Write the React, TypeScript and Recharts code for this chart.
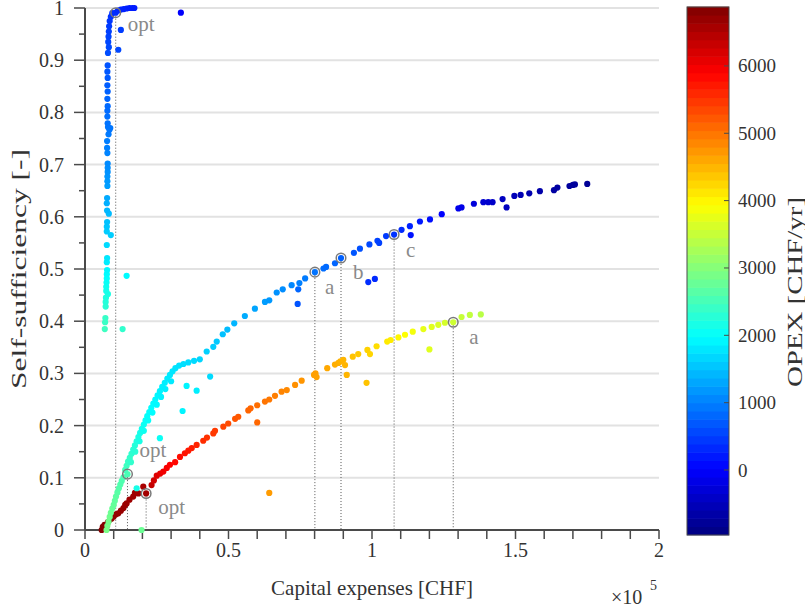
import React from 'react'
import { ScatterChart, Scatter, XAxis, YAxis, ReferenceLine } from 'recharts'

// [capital expenses CHF, self-sufficiency, OPEX CHF/yr]
const verticalFront: [number, number, number][] = [
  [6900, 0.385, 2450], [7000, 0.398, 2420], [7100, 0.406, 2400], [13100, 0.385, 2350],
  [7200, 0.428, 2300], [7200, 0.437, 2260], [7300, 0.445, 2220], [8000, 0.452, 2180],
  [7400, 0.458, 2140], [7400, 0.466, 2100], [7500, 0.474, 2050], [7600, 0.482, 2000],
  [14500, 0.487, 1950], [7600, 0.49, 1960], [7700, 0.498, 1920], [7600, 0.513, 1840],
  [7700, 0.521, 1800], [7600, 0.546, 1700], [9000, 0.565, 1600], [7600, 0.572, 1580],
  [7600, 0.581, 1540], [7700, 0.59, 1500], [8300, 0.606, 1450], [7700, 0.612, 1420],
  [7600, 0.626, 1360], [7700, 0.636, 1320], [7800, 0.659, 1240], [7800, 0.668, 1200],
  [7800, 0.677, 1170], [7900, 0.686, 1140], [7900, 0.694, 1110], [7900, 0.702, 1080],
  [7800, 0.722, 1030], [7700, 0.732, 1000], [7700, 0.745, 980], [8200, 0.758, 950],
  [8500, 0.767, 930], [8000, 0.772, 920], [8800, 0.77, 920], [7900, 0.779, 900],
  [7800, 0.792, 870], [7800, 0.803, 840], [7900, 0.812, 820], [7800, 0.826, 790],
  [7900, 0.84, 760], [7800, 0.852, 730], [7900, 0.866, 700], [7800, 0.878, 680],
  [7900, 0.89, 650], [8000, 0.914, 600], [8300, 0.925, 580], [8100, 0.935, 560],
  [11600, 0.92, 560], [8200, 0.945, 530], [8300, 0.955, 500], [12500, 0.958, 480],
  [8400, 0.965, 470], [8600, 0.975, 440], [9000, 0.983, 410], [9500, 0.99, 380],
  [10700, 0.991, 360], [11500, 0.995, 330], [12500, 0.997, 300], [13500, 0.998, 280],
  [14500, 0.999, 260], [15500, 1.0, 240], [16500, 1.0, 230], [17200, 1.0, 220],
  [33400, 0.991, 0],
]

const upperFront: [number, number, number][] = [
  [7500, 0.0, 2900], [7800, 0.008, 2880], [8200, 0.016, 2860], [8600, 0.025, 2840],
  [9000, 0.033, 2810], [9500, 0.041, 2780], [10000, 0.048, 2750], [10400, 0.056, 2720],
  [10800, 0.064, 2690], [11300, 0.072, 2660], [11800, 0.08, 2630], [12300, 0.087, 2600],
  [12800, 0.094, 2580], [13400, 0.101, 2560], [14800, 0.107, 2540], [14000, 0.115, 2500],
  [14500, 0.123, 2460], [15000, 0.131, 2420], [15600, 0.138, 2380], [16000, 0.13, 2360],
  [16200, 0.146, 2340], [16800, 0.154, 2300], [17500, 0.15, 2290], [17400, 0.162, 2260],
  [18000, 0.17, 2220], [18600, 0.178, 2180], [19000, 0.17, 2170], [19200, 0.186, 2140],
  [19800, 0.194, 2100], [20500, 0.202, 2070], [20500, 0.19, 2080], [21100, 0.21, 2040],
  [21700, 0.218, 2010], [22000, 0.21, 2020], [22400, 0.226, 1990], [23100, 0.234, 1970],
  [23500, 0.225, 1970], [23800, 0.242, 1950], [24500, 0.25, 1930], [25000, 0.24, 1930],
  [25300, 0.258, 1910], [26100, 0.266, 1890], [26500, 0.255, 1890], [26900, 0.274, 1870],
  [27800, 0.282, 1850], [28000, 0.27, 1850], [28700, 0.29, 1830], [29600, 0.297, 1810],
  [30000, 0.285, 1810], [30500, 0.304, 1790], [31500, 0.31, 1770], [32800, 0.315, 1750],
  [34300, 0.318, 1730], [36000, 0.321, 1710], [38000, 0.324, 1690], [40000, 0.327, 1660],
  [42400, 0.342, 1620], [44700, 0.351, 1580], [45900, 0.361, 1550], [48000, 0.375, 1500],
  [49600, 0.384, 1460], [52000, 0.396, 1410], [55700, 0.41, 1340], [59200, 0.424, 1280],
  [62700, 0.437, 1220], [64200, 0.44, 1190], [66800, 0.455, 1140], [68900, 0.461, 1100],
  [72000, 0.469, 1050], [74700, 0.473, 1000], [76700, 0.482, 960], [80100, 0.494, 900],
  [83100, 0.501, 850], [84000, 0.504, 830], [87100, 0.511, 780], [89200, 0.521, 750],
  [93700, 0.531, 670], [95800, 0.539, 630], [99100, 0.547, 570], [101900, 0.554, 520],
  [102500, 0.55, 510], [104900, 0.563, 460], [107700, 0.566, 400], [110300, 0.575, 340],
  [113200, 0.582, 280], [116700, 0.591, 200], [120200, 0.595, 120], [124300, 0.605, 20],
  [130100, 0.616, -130], [131200, 0.618, -160], [135500, 0.625, -260], [138800, 0.628, -330],
  [140500, 0.628, -370], [142000, 0.628, -400], [145500, 0.634, -460], [146900, 0.618, -480],
  [149600, 0.64, -530], [151800, 0.642, -560], [154800, 0.645, -600], [158500, 0.649, -640],
  [163400, 0.651, -690], [164600, 0.656, -700], [168800, 0.659, -740], [170000, 0.661, -750],
  [170700, 0.662, -755], [175000, 0.663, -790],
  // scattered solutions off the front
  [18000, 0.08, 2150], [19700, 0.0, 2800], [26100, 0.176, 2050], [34000, 0.228, 1900],
  [35400, 0.276, 1900], [38900, 0.267, 1850], [43600, 0.294, 1700], [74300, 0.461, 800],
  [74100, 0.433, 650], [98700, 0.475, 350], [101000, 0.481, 330], [113500, 0.565, 150],
]

const lowerFront: [number, number, number][] = [
  [5800, 0.0, 6850], [6200, 0.006, 6840], [6800, 0.01, 6830], [7500, 0.006, 6820],
  [8000, 0.015, 6800], [8700, 0.02, 6780], [9300, 0.022, 6760], [10000, 0.026, 6740],
  [10800, 0.03, 6720], [11600, 0.032, 6700], [12500, 0.037, 6690], [13400, 0.042, 6680],
  [14000, 0.048, 6670], [14500, 0.051, 6660], [15500, 0.058, 6650], [16800, 0.064, 6640],
  [17400, 0.071, 6630], [18600, 0.07, 6620], [20300, 0.083, 6550], [21300, 0.07, 6600],
  [23200, 0.086, 6350], [24000, 0.095, 6250], [25000, 0.104, 6150], [26200, 0.108, 6080],
  [27300, 0.112, 6000], [28500, 0.119, 5950], [29600, 0.125, 5900], [31400, 0.13, 5850],
  [33100, 0.14, 5800], [34800, 0.147, 5760], [36000, 0.152, 5720], [37200, 0.157, 5680],
  [38900, 0.163, 5620], [41200, 0.171, 5560], [42500, 0.177, 5520], [44700, 0.185, 5470],
  [45300, 0.19, 5450], [48200, 0.198, 5370], [49900, 0.204, 5320], [52300, 0.213, 5250],
  [53400, 0.217, 5220], [56900, 0.229, 5130], [57700, 0.233, 5110], [60000, 0.239, 5050],
  [62700, 0.246, 5000], [64200, 0.25, 4970], [66200, 0.257, 4930], [68500, 0.265, 4880],
  [70300, 0.268, 4840], [73200, 0.278, 4790], [75500, 0.286, 4750], [79800, 0.297, 4680],
  [80300, 0.3, 4670], [80700, 0.293, 4660], [84400, 0.31, 4600], [87100, 0.317, 4560],
  [88300, 0.32, 4540], [89000, 0.323, 4520], [90000, 0.326, 4500], [93300, 0.332, 4400],
  [95200, 0.337, 4350], [98400, 0.345, 4280], [99300, 0.337, 4260], [101600, 0.352, 4200],
  [105300, 0.361, 4100], [106500, 0.364, 4070], [109200, 0.369, 4000], [111500, 0.374, 3930],
  [114200, 0.38, 3850], [117900, 0.385, 3760], [120800, 0.389, 3700], [123100, 0.393, 3650],
  [125400, 0.397, 3610], [128300, 0.398, 3560], [131200, 0.408, 3500], [134100, 0.412, 3460],
  [137900, 0.413, 3400],
  [60000, 0.206, 5100], [64200, 0.071, 4700], [91200, 0.297, 4500], [90600, 0.316, 4500],
  [98100, 0.282, 4400], [120000, 0.346, 3700],
]

// highlighted solutions
const markX = [10700, 14800, 21300, 80100, 89200, 107700, 128300]
const markY = [0.991, 0.107, 0.07, 0.494, 0.521, 0.566, 0.398]
const markLabels = ['opt', 'opt', 'opt', 'a', 'b', 'c', 'a']
const labelOffsets = [[12, 18], [12, -17], [12, 21], [10, 22], [12, 21], [12, 22], [16, 22]]

const X_TICKS = [0, 10000, 20000, 30000, 40000, 50000, 60000, 70000, 80000, 90000, 100000,
  110000, 120000, 130000, 140000, 150000, 160000, 170000, 180000, 190000, 200000]
const Y_TICKS = [0, 0.05, 0.1, 0.15, 0.2, 0.25, 0.3, 0.35, 0.4, 0.45, 0.5, 0.55, 0.6, 0.65,
  0.7, 0.75, 0.8, 0.85, 0.9, 0.95, 1]
const GRID_Y = [0.1, 0.2, 0.3, 0.4, 0.5, 0.6, 0.7, 0.8, 0.9, 1]
const CB_TICKS = [0, 1000, 2000, 3000, 4000, 5000, 6000]

const CMIN = -965
const CMAX = 6875
const SERIF = '"Liberation Serif", "Times New Roman", serif'
const AXIS = '#4a4a4a'
const TXT = '#333333'

function jet(v: number) {
  const t = Math.max(0, Math.min(1, (v - CMIN) / (CMAX - CMIN)))
  const k = (a: number) => Math.round(255 * Math.max(0, Math.min(1, a)))
  const r = k(Math.min(4 * t - 1.5, -4 * t + 4.5))
  const g = k(Math.min(4 * t - 0.5, -4 * t + 3.5))
  const b = k(Math.min(4 * t + 0.5, -4 * t + 2.5))
  return `rgb(${r},${g},${b})`
}

const toPoints = (rows: [number, number, number][]) =>
  rows.map(([x, y, opex]) => ({ x, y, opex }))

const marks = markX.map((x, i) => ({ x, y: markY[i], label: markLabels[i], i }))

const Dot = (p: any) => (
  <circle cx={p.cx} cy={p.cy} r={3.1} fill={jet(p.payload.opex)} />
)

const Mark = (p: any) => {
  const [dx, dy] = labelOffsets[p.payload.i]
  return (
    <g>
      <circle cx={p.cx} cy={p.cy} r={4.8} fill="none" stroke="#7a7a7a" strokeWidth={1.5} />
      <text x={p.cx + dx} y={p.cy + dy} fill="#8a8a8a" fontSize={21} fontFamily={SERIF}>
        {p.payload.label}
      </text>
    </g>
  )
}

const YTick = (p: any) => {
  const v = p.payload.value
  const major = Math.round(v * 100) % 10 === 0
  const len = major ? 11 : 6
  const label = v === 0 ? '0' : v === 1 ? '1' : v.toFixed(1)
  return (
    <g>
      <line x1={p.x - len} x2={p.x} y1={p.y} y2={p.y} stroke={AXIS} strokeWidth={1.5} />
      {major && (
        <text x={p.x - 21} y={p.y} textAnchor="end" dominantBaseline="central"
          fill={TXT} fontSize={20} fontFamily={SERIF}>{label}</text>
      )}
    </g>
  )
}

const fmtX = (v: number) => (v % 50000 === 0 ? String(v / 100000) : '')

function ColorBar() {
  const x = 687, w = 42, top = 7, bottom = 535
  const n = 64
  const h = (bottom - top) / n
  const yOf = (v: number) => bottom - ((v - CMIN) / (CMAX - CMIN)) * (bottom - top)
  return (
    <g>
      {Array.from({ length: n }, (_, i) => (
        <rect key={i} x={x} y={bottom - (i + 1) * h - 0.3} width={w} height={h + 0.6}
          fill={jet(CMIN + ((i + 0.5) / n) * (CMAX - CMIN))} />
      ))}
      <rect x={x} y={top} width={w} height={bottom - top} fill="none" stroke={AXIS} strokeWidth={1} />
      {CB_TICKS.map((v) => (
        <g key={v}>
          <line x1={x + w - 5} x2={x + w} y1={yOf(v)} y2={yOf(v)} stroke={AXIS} strokeWidth={1} />
          <text x={738} y={yOf(v)} dominantBaseline="central" fill={TXT} fontSize={19}
            fontFamily={SERIF}>{v}</text>
        </g>
      ))}
      <text transform="translate(795,292) rotate(-90)" textAnchor="middle" dominantBaseline="central"
        fill={TXT} fontSize={20} fontFamily={SERIF} textLength={190} lengthAdjust="spacingAndGlyphs">
        OPEX [CHF/yr]
      </text>
    </g>
  )
}

export default function App() {
  return (
    <div style={{ position: 'absolute', left: 0, top: 0, width: 805, height: 607, background: '#fff' }}>
      <ScatterChart width={805} height={607} margin={{ top: 8, right: 146, bottom: 0, left: 0 }}>
        <XAxis type="number" dataKey="x" domain={[0, 200000]} ticks={X_TICKS} interval={0}
          tickFormatter={fmtX} tickSize={9} tickMargin={4} height={77}
          axisLine={{ stroke: AXIS, strokeWidth: 2 }} tickLine={{ stroke: AXIS, strokeWidth: 1.5 }}
          tick={{ fill: TXT, fontSize: 20, fontFamily: SERIF }} />
        <YAxis type="number" dataKey="y" domain={[0, 1]} ticks={Y_TICKS} interval={0}
          tick={YTick} tickLine={false} tickSize={0} tickMargin={0} width={85}
          axisLine={{ stroke: AXIS, strokeWidth: 2 }} />
        {GRID_Y.map((v) => (
          <ReferenceLine key={v} y={v} stroke="#e2e2e2" strokeWidth={2} />
        ))}
        {markX.map((x, i) => (
          <ReferenceLine key={'d' + i} segment={[{ x, y: markY[i] }, { x, y: 0 }]}
            stroke="#555" strokeWidth={1} strokeDasharray="1 2" />
        ))}
        <Scatter data={toPoints(lowerFront)} shape={Dot} isAnimationActive={false} />
        <Scatter data={toPoints(upperFront)} shape={Dot} isAnimationActive={false} />
        <Scatter data={toPoints(verticalFront)} shape={Dot} isAnimationActive={false} />
        <Scatter data={marks} shape={Mark} isAnimationActive={false} />
      </ScatterChart>
      <svg width={805} height={607} style={{ position: 'absolute', left: 0, top: 0, pointerEvents: 'none' }}>
        <text x={372} y={588} textAnchor="middle" dominantBaseline="central" fill={TXT}
          fontSize={21} fontFamily={SERIF}>Capital expenses [CHF]</text>
        <text transform="translate(19,269) rotate(-90)" textAnchor="middle" dominantBaseline="central"
          fill={TXT} fontSize={21} fontFamily={SERIF} textLength={240}
          lengthAdjust="spacingAndGlyphs">Self-sufficiency [-]</text>
        <text x={611} y={604} fill={TXT} fontSize={20} fontFamily={SERIF}>×10</text>
        <text x={650} y={590} fill={TXT} fontSize={14} fontFamily={SERIF}>5</text>
        <ColorBar />
      </svg>
    </div>
  )
}
